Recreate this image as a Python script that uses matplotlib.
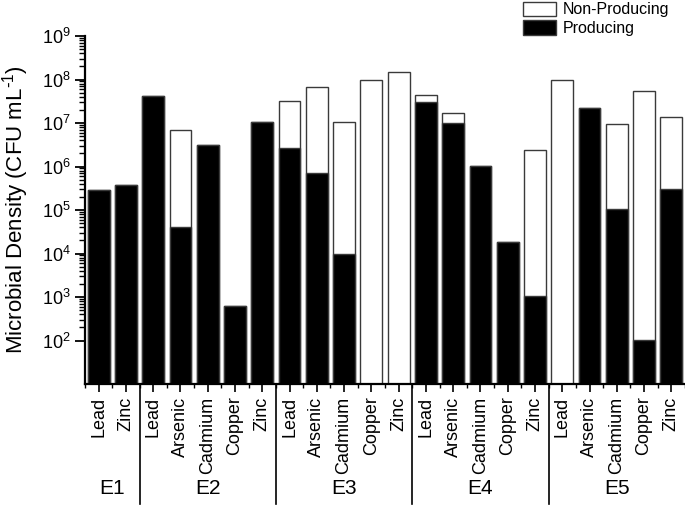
import numpy as np
import matplotlib
matplotlib.use("Agg")
import matplotlib.pyplot as plt
from matplotlib.patches import Patch
from matplotlib.ticker import FixedLocator, NullFormatter

plt.rcParams['font.family'] = ['Liberation Sans', 'DejaVu Sans']
plt.rcParams['mathtext.default'] = 'regular'

groups = ['E1', 'E2', 'E3', 'E4', 'E5']
group_sizes = [2, 5, 5, 5, 5]
metals = ['Lead', 'Zinc',
          'Lead', 'Arsenic', 'Cadmium', 'Copper', 'Zinc',
          'Lead', 'Arsenic', 'Cadmium', 'Copper', 'Zinc',
          'Lead', 'Arsenic', 'Cadmium', 'Copper', 'Zinc',
          'Lead', 'Arsenic', 'Cadmium', 'Copper', 'Zinc']

# total density (Non-Producing + Producing), CFU/mL
total = [2.9e5, 3.7e5,
         4.2e7, 7.0e6, 3.1e6, 6.3e2, 1.03e7,
         3.2e7, 6.6e7, 1.07e7, 9.7e7, 1.47e8,
         4.5e7, 1.66e7, 1.05e6, 1.8e4, 2.4e6,
         9.5e7, 2.2e7, 9.5e6, 5.5e7, 1.37e7]
# producing density, CFU/mL (0 = none)
producing = [2.9e5, 3.7e5,
             4.2e7, 4.1e4, 3.1e6, 6.3e2, 1.03e7,
             2.7e6, 7.2e5, 1.0e4, 0, 0,
             3.0e7, 1.0e7, 1.05e6, 1.8e4, 1.04e3,
             0, 2.2e7, 1.04e5, 1.05e2, 3.1e5]

fig = plt.figure(figsize=(6.85, 5.05), dpi=100)
ax = fig.add_axes([85/685, 1-384/505, 600/685, 348/505])
ax.set_yscale('log')

x = np.arange(len(metals))
tot = np.array(total)
prod = np.array(producing)
edge = '#3a3a3a'
ax.bar(x, tot, width=0.8, color='white', edgecolor=edge, linewidth=1.0)
m = prod > 0
ax.bar(x[m], prod[m], width=0.8, color='black', edgecolor=edge, linewidth=1.0)

ax.set_xlim(-0.5, len(metals) - 0.5)
ax.set_ylim(10, 1e9)

ax.yaxis.set_major_locator(FixedLocator([10.0**k for k in range(2, 10)]))
minors = [d * 10.0**k for k in range(2, 9) for d in range(2, 10)]
ax.yaxis.set_minor_locator(FixedLocator(minors))
ax.yaxis.set_minor_formatter(NullFormatter())

ax.set_xticks(x)
ax.set_xticklabels(metals, rotation=90, fontsize=13, va='top')
ax.set_xticks(np.arange(len(metals) + 1) - 0.5, minor=True)

for s in ['top', 'right']:
    ax.spines[s].set_visible(False)
for s in ['left', 'bottom']:
    ax.spines[s].set_linewidth(1.6)

ax.tick_params(axis='y', which='major', length=7, width=1.3, labelsize=13, direction='out')
ax.tick_params(axis='y', which='minor', length=4, width=1.0, direction='out')
ax.tick_params(axis='x', which='major', length=6, width=1.2, pad=3, direction='out')
ax.tick_params(axis='x', which='minor', length=3, width=1.0, direction='out')

ax.set_ylabel(r'Microbial Density (CFU mL$^{\text{-}1}$)', fontsize=16, labelpad=8)

# group separators and labels
trans = ax.get_xaxis_transform()
bounds = np.cumsum(group_sizes)
for b in bounds[:-1]:
    ax.plot([b - 0.5, b - 0.5], [0, -0.345], transform=trans, color='black',
            linewidth=1.2, clip_on=False)
start = 0
for g, n in zip(groups, group_sizes):
    cx = start + (n - 1) / 2
    ax.text(cx, -0.30, g, transform=trans, ha='center', va='center', fontsize=15)
    start += n

handles = [Patch(facecolor='white', edgecolor=edge, linewidth=1.0, label='Non-Producing'),
           Patch(facecolor='black', edgecolor=edge, linewidth=1.0, label='Producing')]
fig.legend(handles=handles, loc='upper left', bbox_to_anchor=(521/685, 1.0),
           frameon=False, fontsize=11.5, handlelength=2.1, handleheight=1.05,
           handletextpad=0.4, labelspacing=0.15, borderpad=0.1, borderaxespad=0)

fig.savefig('out.png', dpi=100)
